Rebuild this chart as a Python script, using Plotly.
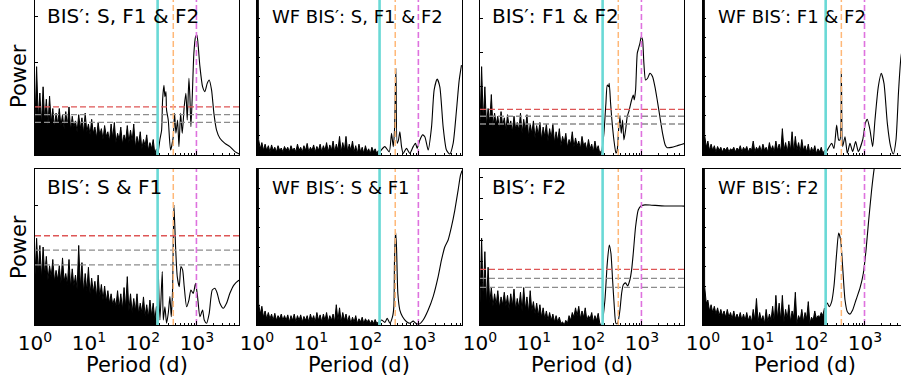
import plotly.graph_objects as go

# ---------------- data (log10 period in days, normalised power) ----------------
noise_log10_period = [
    0.00, 0.03, 0.06, 0.09, 0.12, 0.15, 0.18, 0.21, 0.24, 0.27,
    0.30, 0.33, 0.36, 0.39, 0.42, 0.45, 0.48, 0.51, 0.54, 0.57,
    0.60, 0.63, 0.66, 0.69, 0.72, 0.75, 0.78, 0.81, 0.84, 0.87,
    0.90, 0.93, 0.96, 0.99, 1.02, 1.05, 1.08, 1.11, 1.14, 1.17,
    1.20, 1.23, 1.26, 1.29, 1.32, 1.35, 1.38, 1.41, 1.44, 1.47,
    1.50, 1.53, 1.56, 1.59, 1.62, 1.65, 1.68, 1.71, 1.74, 1.77,
    1.80, 1.83, 1.86, 1.89, 1.92, 1.95, 1.98, 2.01, 2.04, 2.07,
    2.10, 2.13, 2.16, 2.19, 2.22, 2.25]

# Panel A: BIS': S, F1 & F2
noise_A = [
    0.21, 0.57, 0.23, 0.40, 0.20, 0.44, 0.22, 0.36, 0.19, 0.38,
    0.21, 0.30, 0.18, 0.27, 0.20, 0.30, 0.19, 0.26, 0.17, 0.28,
    0.19, 0.31, 0.16, 0.25, 0.18, 0.22, 0.15, 0.26, 0.17, 0.24,
    0.14, 0.27, 0.15, 0.20, 0.13, 0.23, 0.14, 0.18, 0.11, 0.21,
    0.13, 0.17, 0.10, 0.19, 0.12, 0.15, 0.09, 0.20, 0.11, 0.21,
    0.08, 0.14, 0.10, 0.18, 0.07, 0.13, 0.09, 0.19, 0.08, 0.16,
    0.09, 0.20, 0.05, 0.12, 0.07, 0.15, 0.04, 0.10, 0.06, 0.13,
    0.03, 0.08, 0.04, 0.10, 0.01, 0.04]
smooth_logp_A = [2.28, 2.315, 2.346, 2.364, 2.389, 2.407, 2.426, 2.438, 2.469, 2.512,
                 2.562, 2.586, 2.611, 2.642, 2.667, 2.698, 2.728, 2.765, 2.796, 2.821,
                 2.852, 2.870, 2.889, 2.914, 2.944, 2.975, 3.0, 3.025, 3.056, 3.105,
                 3.148, 3.191, 3.228, 3.272, 3.315, 3.364, 3.426, 3.519, 3.611, 3.704, 3.796]
smooth_pow_A = [0.01, 0.10, 0.16, 0.355, 0.45, 0.376, 0.41, 0.29, 0.226, 0.032,
                0.118, 0.269, 0.14, 0.226, 0.054, 0.269, 0.14, 0.312, 0.398, 0.226,
                0.495, 0.376, 0.183, 0.376, 0.656, 0.763, 0.774, 0.699, 0.57, 0.441,
                0.409, 0.462, 0.484, 0.419, 0.269, 0.161, 0.108, 0.075, 0.054, 0.022, 0.005]
fap_A = [0.31, 0.26, 0.21]

# Panel B: WF BIS': S, F1 & F2
noise_B = [
    5.0, 0.10, 0.04, 0.08, 0.03, 0.07, 0.03, 0.06, 0.02, 0.065,
    0.03, 0.05, 0.02, 0.06, 0.03, 0.045, 0.02, 0.055, 0.03, 0.05,
    0.02, 0.06, 0.03, 0.045, 0.02, 0.07, 0.03, 0.05, 0.02, 0.06,
    0.03, 0.075, 0.02, 0.05, 0.03, 0.065, 0.02, 0.055, 0.03, 0.07,
    0.02, 0.06, 0.03, 0.08, 0.02, 0.065, 0.03, 0.09, 0.02, 0.07,
    0.03, 0.12, 0.02, 0.08, 0.03, 0.12, 0.02, 0.07, 0.03, 0.09,
    0.02, 0.06, 0.01, 0.07, 0.02, 0.05, 0.01, 0.06, 0.02, 0.04,
    0.01, 0.05, 0.02, 0.04, 0.01, 0.03]
smooth_logp_B = [2.278, 2.370, 2.451, 2.494, 2.525, 2.549, 2.574, 2.599, 2.623, 2.648,
                 2.679, 2.710, 2.772, 2.833, 2.895, 2.938, 2.969, 3.019, 3.068, 3.111,
                 3.173, 3.235, 3.284, 3.340, 3.389, 3.451, 3.512, 3.574, 3.636, 3.698,
                 3.747, 3.790]
smooth_pow_B = [0.02, 0.054, 0.02, 0.14, 0.054, 0.16, 0.56, 0.075, 0.097, 0.15,
                0.054, 0.01, 0.043, 0.01, 0.054, 0.075, 0.043, 0.097, 0.13, 0.118,
                0.032, 0.18, 0.42, 0.49, 0.44, 0.18, 0.032, 0.006, 0.075, 0.29,
                0.48, 0.58]

# Panel C: BIS': F1 & F2
noise_C = [
    0.20, 0.57, 0.22, 0.44, 0.19, 0.30, 0.21, 0.39, 0.18, 0.27,
    0.20, 0.25, 0.17, 0.28, 0.19, 0.24, 0.16, 0.26, 0.18, 0.22,
    0.15, 0.25, 0.17, 0.21, 0.16, 0.27, 0.14, 0.23, 0.16, 0.26,
    0.12, 0.20, 0.14, 0.22, 0.11, 0.19, 0.13, 0.21, 0.10, 0.18,
    0.12, 0.20, 0.09, 0.17, 0.11, 0.20, 0.08, 0.15, 0.09, 0.17,
    0.06, 0.12, 0.08, 0.14, 0.05, 0.10, 0.07, 0.15, 0.05, 0.11,
    0.06, 0.09, 0.04, 0.12, 0.06, 0.08, 0.03, 0.10, 0.04, 0.07,
    0.02, 0.09, 0.03, 0.06, 0.01, 0.03]
smooth_logp_C = [2.253, 2.296, 2.333, 2.358, 2.383, 2.395, 2.420, 2.444, 2.481, 2.519,
                 2.543, 2.568, 2.593, 2.617, 2.642, 2.667, 2.698, 2.728, 2.765, 2.809,
                 2.840, 2.858, 2.883, 2.914, 2.938, 2.963, 2.988, 3.012, 3.037, 3.068,
                 3.105, 3.148, 3.198, 3.241, 3.284, 3.333, 3.383, 3.432, 3.469, 3.549,
                 3.642, 3.796]
smooth_pow_C = [0.011, 0.14, 0.333, 0.452, 0.441, 0.462, 0.333, 0.226, 0.097, 0.011,
                0.032, 0.161, 0.247, 0.14, 0.226, 0.097, 0.161, 0.247, 0.29, 0.355,
                0.387, 0.355, 0.419, 0.656, 0.688, 0.72, 0.763, 0.742, 0.591, 0.484,
                0.495, 0.527, 0.505, 0.441, 0.355, 0.247, 0.14, 0.065, 0.047, 0.049,
                0.058, 0.075]
fap_C = [0.295, 0.25, 0.20]

# Panel D: WF BIS': F1 & F2
noise_D = [
    5.0, 0.13, 0.05, 0.09, 0.03, 0.07, 0.03, 0.06, 0.02, 0.055,
    0.03, 0.05, 0.02, 0.045, 0.03, 0.05, 0.02, 0.04, 0.03, 0.05,
    0.02, 0.045, 0.03, 0.06, 0.02, 0.05, 0.03, 0.055, 0.02, 0.045,
    0.03, 0.09, 0.02, 0.05, 0.03, 0.06, 0.02, 0.07, 0.03, 0.05,
    0.02, 0.08, 0.03, 0.06, 0.02, 0.09, 0.03, 0.07, 0.02, 0.17,
    0.03, 0.08, 0.02, 0.09, 0.03, 0.15, 0.02, 0.12, 0.03, 0.08,
    0.02, 0.10, 0.03, 0.06, 0.02, 0.07, 0.01, 0.05, 0.02, 0.06,
    0.01, 0.04, 0.02, 0.05, 0.01, 0.03]
smooth_logp_D = [2.290, 2.383, 2.426, 2.475, 2.512, 2.537, 2.562, 2.586, 2.630, 2.673,
                 2.722, 2.772, 2.827, 2.877, 2.957, 3.006, 3.043, 3.093, 3.142, 3.185,
                 3.247, 3.302, 3.352, 3.414, 3.475, 3.525, 3.574, 3.623, 3.667, 3.73, 3.80]
smooth_pow_D = [0.022, 0.075, 0.043, 0.194, 0.097, 0.097, 0.544, 0.054, 0.118, 0.011,
                0.075, 0.022, 0.086, 0.022, 0.097, 0.204, 0.23, 0.161, 0.054, 0.226,
                0.441, 0.527, 0.462, 0.204, 0.054, 0.006, 0.097, 0.419, 0.634, 0.75, 0.85]

# Panel E: BIS': S & F1
noise_E = [
    0.32, 0.556, 0.33, 0.51, 0.30, 0.50, 0.32, 0.44, 0.29, 0.38,
    0.31, 0.42, 0.28, 0.35, 0.29, 0.38, 0.27, 0.43, 0.28, 0.33,
    0.26, 0.42, 0.24, 0.36, 0.25, 0.32, 0.23, 0.51, 0.24, 0.40,
    0.21, 0.33, 0.22, 0.37, 0.20, 0.30, 0.21, 0.28, 0.18, 0.32,
    0.18, 0.26, 0.16, 0.25, 0.15, 0.22, 0.14, 0.20, 0.13, 0.17,
    0.12, 0.22, 0.11, 0.20, 0.10, 0.24, 0.11, 0.31, 0.09, 0.20,
    0.08, 0.17, 0.09, 0.20, 0.07, 0.14, 0.08, 0.18, 0.06, 0.13,
    0.05, 0.16, 0.06, 0.14, 0.03, 0.12]
smooth_logp_E = [2.284, 2.315, 2.358, 2.377, 2.407, 2.438, 2.469, 2.5, 2.525, 2.549,
                 2.574, 2.605, 2.636, 2.673, 2.704, 2.735, 2.765, 2.809, 2.852, 2.889,
                 2.932, 2.975, 3.012, 3.056, 3.105, 3.136, 3.179, 3.228, 3.284, 3.333,
                 3.377, 3.426, 3.488, 3.549, 3.611, 3.685, 3.765, 3.796]
smooth_pow_E = [0.353, 0.032, 0.342, 0.032, 0.117, 0.011, 0.075, 0.182, 0.053, 0.224,
                0.77, 0.50, 0.31, 0.246, 0.374, 0.353, 0.246, 0.117, 0.16, 0.224,
                0.203, 0.267, 0.182, 0.053, 0.096, 0.032, 0.011, 0.075, 0.224, 0.235,
                0.203, 0.139, 0.107, 0.139, 0.203, 0.256, 0.284, 0.288]
fap_E = [0.572, 0.48, 0.385]

# Panel F: WF BIS': S & F1
noise_F = [
    5.0, 0.14, 0.07, 0.12, 0.05, 0.09, 0.04, 0.08, 0.04, 0.07,
    0.03, 0.075, 0.03, 0.06, 0.04, 0.07, 0.03, 0.06, 0.03, 0.065,
    0.02, 0.06, 0.03, 0.07, 0.02, 0.06, 0.03, 0.065, 0.02, 0.055,
    0.03, 0.06, 0.02, 0.07, 0.03, 0.06, 0.02, 0.08, 0.03, 0.065,
    0.02, 0.07, 0.03, 0.08, 0.02, 0.06, 0.03, 0.07, 0.02, 0.13,
    0.03, 0.11, 0.02, 0.08, 0.03, 0.07, 0.02, 0.06, 0.01, 0.05,
    0.02, 0.06, 0.01, 0.04, 0.02, 0.05, 0.01, 0.04, 0.02, 0.035,
    0.01, 0.03, 0.01, 0.035, 0.01, 0.02]
smooth_logp_F = [2.265, 2.309, 2.370, 2.414, 2.463, 2.512, 2.537, 2.549, 2.568, 2.586,
                 2.611, 2.648, 2.698, 2.772, 2.833, 2.895, 2.944, 3.006, 3.080, 3.173,
                 3.265, 3.358, 3.420, 3.481, 3.543, 3.605, 3.667, 3.728, 3.772, 3.80]
smooth_pow_F = [0.011, 0.032, 0.017, 0.043, 0.011, 0.053, 0.118, 0.417, 0.60, 0.50,
                0.20, 0.096, 0.053, 0.021, 0.011, 0.025, 0.011, 0.006, 0.032, 0.096,
                0.182, 0.31, 0.417, 0.50, 0.545, 0.63, 0.737, 0.865, 0.96, 0.99]

# Panel G: BIS': F2
noise_G = [
    0.14, 0.556, 0.15, 0.47, 0.13, 0.37, 0.14, 0.24, 0.12, 0.20,
    0.13, 0.22, 0.11, 0.18, 0.13, 0.21, 0.12, 0.19, 0.10, 0.20,
    0.12, 0.23, 0.10, 0.17, 0.11, 0.21, 0.09, 0.24, 0.10, 0.18,
    0.08, 0.22, 0.09, 0.15, 0.07, 0.14, 0.06, 0.13, 0.05, 0.11,
    0.04, 0.09, 0.03, 0.08, 0.03, 0.07, 0.02, 0.06, 0.02, 0.05,
    0.01, 0.02, 0.00, 0.03, 0.01, 0.06, 0.03, 0.08, 0.05, 0.11,
    0.06, 0.12, 0.04, 0.09, 0.05, 0.11, 0.03, 0.06, 0.04, 0.08,
    0.02, 0.06, 0.03, 0.075, 0.01, 0.00]
smooth_logp_G = [2.265, 2.315, 2.358, 2.395, 2.426, 2.457, 2.488, 2.519, 2.549, 2.593,
                 2.623, 2.654, 2.698, 2.735, 2.778, 2.809, 2.840, 2.883, 2.932, 2.981,
                 3.056, 3.179, 3.426, 3.735, 3.784]
smooth_pow_G = [0.0, 0.16, 0.395, 0.513, 0.46, 0.288, 0.12, 0.01, 0.01, 0.096,
                0.20, 0.256, 0.27, 0.25, 0.29, 0.353, 0.46, 0.63, 0.737, 0.763,
                0.77, 0.768, 0.763, 0.763, 0.762]
fap_G = [0.357, 0.299, 0.241]

# Panel H: WF BIS': F2
noise_H = [
    5.0, 0.25, 0.14, 0.16, 0.09, 0.13, 0.08, 0.12, 0.07, 0.11,
    0.06, 0.10, 0.06, 0.09, 0.05, 0.10, 0.05, 0.08, 0.04, 0.09,
    0.04, 0.07, 0.04, 0.08, 0.03, 0.07, 0.03, 0.08, 0.03, 0.06,
    0.02, 0.10, 0.03, 0.17, 0.02, 0.08, 0.03, 0.06, 0.01, 0.10,
    0.02, 0.07, 0.03, 0.12, 0.02, 0.19, 0.04, 0.14, 0.03, 0.19,
    0.02, 0.10, 0.04, 0.13, 0.02, 0.09, 0.05, 0.21, 0.01, 0.06,
    0.03, 0.10, 0.02, 0.08, 0.04, 0.15, 0.01, 0.05, 0.03, 0.09,
    0.04, 0.06, 0.05, 0.08, 0.06, 0.11]
smooth_logp_H = [2.259, 2.302, 2.339, 2.383, 2.426, 2.475, 2.512, 2.549, 2.586, 2.630,
                 2.673, 2.722, 2.772, 2.833, 2.907, 2.969, 3.019, 3.068, 3.123, 3.167,
                 3.216, 3.40, 3.667]
smooth_pow_H = [0.118, 0.14, 0.118, 0.15, 0.25, 0.46, 0.59, 0.545, 0.374, 0.16,
                0.085, 0.07, 0.096, 0.16, 0.236, 0.33, 0.48, 0.67, 0.865, 0.994,
                1.1, 1.5, 2.0]

titles = ["BIS′: S, F1 & F2", "WF BIS′: S, F1 & F2", "BIS′: F1 & F2", "WF BIS′: F1 & F2",
          "BIS′: S & F1", "WF BIS′: S & F1", "BIS′: F2", "WF BIS′: F2"]
ref_periods = [187, 365, 980]          # cyan, orange, violet markers (days)
major_ticks = [1, 10, 100, 1000]
major_text = ["10<sup>0</sup>", "10<sup>1</sup>", "10<sup>2</sup>", "10<sup>3</sup>"]

# ---------------- layout geometry ----------------
W, H = 901, 381
col_px = [(35, 239), (257, 462), (480, 684), (703, 901)]
row_px = [(-1, 155), (169, 325)]
xmax_log = [3.78, 3.80, 3.78, 3.667]
ytick_step = [0.297, 0.126, 0.22, 0.126, 0.763, 0.125, 0.135, 0.125]

noise_sets = [noise_A, noise_B, noise_C, noise_D, noise_E, noise_F, noise_G, noise_H]
smooth_x = [smooth_logp_A, smooth_logp_B, smooth_logp_C, smooth_logp_D,
            smooth_logp_E, smooth_logp_F, smooth_logp_G, smooth_logp_H]
smooth_y = [smooth_pow_A, smooth_pow_B, smooth_pow_C, smooth_pow_D,
            smooth_pow_E, smooth_pow_F, smooth_pow_G, smooth_pow_H]
faps = [fap_A, None, fap_C, None, fap_E, None, fap_G, None]

FONT = "DejaVu Sans"
fig = go.Figure()
layout = dict(template="none", width=W, height=H, autosize=False,
              margin=dict(l=0, r=0, t=0, b=0, pad=0),
              paper_bgcolor="white", plot_bgcolor="white", showlegend=False,
              annotations=[])
minor_vals = [m * 10 ** d for d in range(4) for m in range(2, 10)]
nx = [10 ** v for v in noise_log10_period]

for i in range(8):
    r, c = divmod(i, 4)
    k = i + 1
    xa = "x" if k == 1 else f"x{k}"
    ya = "y" if k == 1 else f"y{k}"
    x0, x1 = col_px[c]
    yt, yb = row_px[r]
    rmax = xmax_log[c]
    xr = [1, 10 ** rmax]

    fig.add_trace(go.Scatter(x=nx, y=noise_sets[i], mode="lines",
                             line=dict(color="black", width=1),
                             fill="tozeroy", fillcolor="black",
                             xaxis=xa, yaxis=ya, hoverinfo="skip"))
    fig.add_trace(go.Scatter(x=[10 ** v for v in smooth_x[i]], y=smooth_y[i], mode="lines",
                             line=dict(color="black", width=1.1, shape="spline", smoothing=0.6),
                             xaxis=xa, yaxis=ya, hoverinfo="skip"))
    if faps[i] is not None:
        for v, col in zip(faps[i], ["#de5656", "#8c8c8c", "#8c8c8c"]):
            fig.add_trace(go.Scatter(x=xr, y=[v, v], mode="lines",
                                     line=dict(color=col, width=1.3, dash="6px,3px"),
                                     xaxis=xa, yaxis=ya, hoverinfo="skip"))
    fig.add_trace(go.Scatter(x=[ref_periods[0]] * 2, y=[0, 1], mode="lines",
                             line=dict(color="#6ad9d6", width=2.6),
                             xaxis=xa, yaxis=ya, hoverinfo="skip"))
    fig.add_trace(go.Scatter(x=[ref_periods[1]] * 2, y=[0, 1], mode="lines",
                             line=dict(color="#ffb878", width=1.5, dash="6px,3px"),
                             xaxis=xa, yaxis=ya, hoverinfo="skip"))
    fig.add_trace(go.Scatter(x=[ref_periods[2]] * 2, y=[0, 1], mode="lines",
                             line=dict(color="#de72de", width=1.6, dash="6px,3px"),
                             xaxis=xa, yaxis=ya, hoverinfo="skip"))

    show_lab = (r == 1)
    layout["xaxis" if k == 1 else f"xaxis{k}"] = dict(
        domain=[x0 / W, x1 / W], anchor=ya, type="log", range=[0, rmax],
        automargin=False,
        showline=True, linecolor="black", linewidth=1, mirror=(r == 1),
        ticks="inside", ticklen=4, tickcolor="black", tickmode="array",
        tickvals=major_ticks, ticktext=major_text, showticklabels=show_lab,
        tickfont=dict(family=FONT, size=20, color="black"),
        minor=dict(ticks="inside", ticklen=2, tickcolor="black", tickmode="array",
                   tickvals=minor_vals, showgrid=False),
        showgrid=False, zeroline=False, fixedrange=True)
    layout["yaxis" if k == 1 else f"yaxis{k}"] = dict(
        domain=[max(0, 1 - yb / H), min(1, 1 - yt / H)], anchor=xa, range=[0, 1],
        automargin=False,
        showline=True, linecolor="black", linewidth=1, mirror=(c < 3),
        ticks="inside", ticklen=3, tickcolor="black", tick0=0, dtick=ytick_step[i],
        showticklabels=False, showgrid=False, zeroline=False, fixedrange=True)

    # panel title
    tsize = 18 if titles[i].startswith("WF") else 20
    ty = 16 if r == 0 else 187
    layout["annotations"].append(dict(
        text=titles[i], xref="paper", yref="paper", x=(x0 + 10 if c % 2 == 0 else x0 + 13) / W,
        y=1 - ty / H, xanchor="left", yanchor="middle", showarrow=False,
        font=dict(family=FONT, size=tsize, color="black")))
    if r == 1:
        cx = (x0 + (x0 + 204)) / 2
        layout["annotations"].append(dict(
            text="Period (d)", xref="paper", yref="paper", x=cx / W, y=1 - 365 / H,
            xanchor="center", yanchor="middle", showarrow=False,
            font=dict(family=FONT, size=21, color="black")))

for yc in [76, 247]:
    layout["annotations"].append(dict(
        text="Power", xref="paper", yref="paper", x=19 / W, y=1 - yc / H,
        xanchor="center", yanchor="middle", showarrow=False, textangle=-90,
        font=dict(family=FONT, size=21, color="black")))

fig.update_layout(**layout)
fig.write_html("out.html")
